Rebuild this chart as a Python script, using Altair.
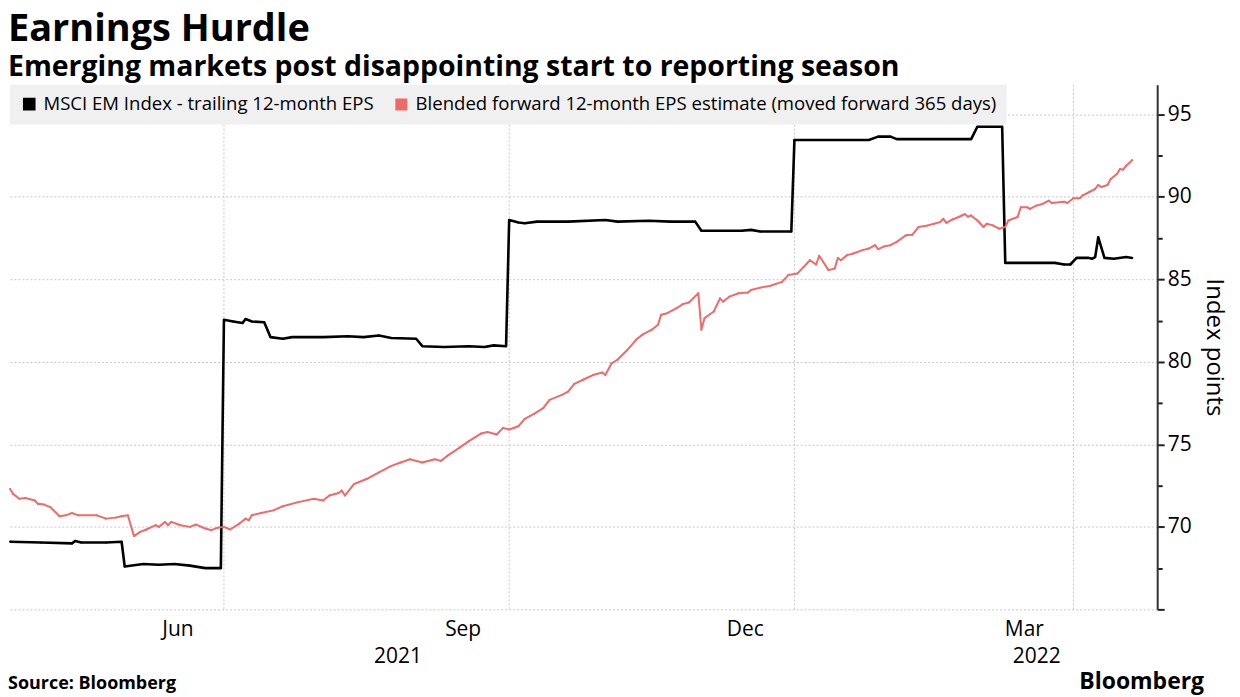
import altair as alt
import pandas as pd

series_names = [
    "MSCI EM Index - trailing 12-month EPS",
    "Blended forward 12-month EPS estimate (moved forward 365 days)",
]
series_colors = ["#000000", "#f06a6a"]
series_widths = [2.6, 2.0]

trailing_dates = [
    "2021-04-23", "2021-05-03", "2021-05-13", "2021-05-14", "2021-05-16", "2021-05-24",
    "2021-05-29", "2021-05-30", "2021-06-05", "2021-06-10", "2021-06-15", "2021-06-20",
    "2021-06-25", "2021-06-30", "2021-07-01", "2021-07-04", "2021-07-07", "2021-07-08",
    "2021-07-10", "2021-07-14", "2021-07-16", "2021-07-20", "2021-07-23", "2021-08-02",
    "2021-08-10", "2021-08-15", "2021-08-20", "2021-08-24", "2021-09-01", "2021-09-03",
    "2021-09-10", "2021-09-18", "2021-09-23", "2021-09-26", "2021-09-30", "2021-10-01",
    "2021-10-04", "2021-10-06", "2021-10-10", "2021-10-20", "2021-11-01", "2021-11-05",
    "2021-11-15", "2021-11-22", "2021-11-30", "2021-12-02", "2021-12-15", "2021-12-18",
    "2021-12-21", "2021-12-31", "2022-01-01", "2022-01-25", "2022-01-28", "2022-02-01",
    "2022-02-03", "2022-02-27", "2022-03-01", "2022-03-09", "2022-03-10", "2022-03-26",
    "2022-03-29", "2022-03-31", "2022-04-02", "2022-04-06", "2022-04-07", "2022-04-08",
    "2022-04-09", "2022-04-11", "2022-04-14", "2022-04-18", "2022-04-20",
]
trailing_values = [
    69.1, 69.05, 69.0, 69.15, 69.05, 69.05,
    69.1, 67.6, 67.75, 67.7, 67.75, 67.65,
    67.5, 67.5, 82.55, 82.45, 82.35, 82.6,
    82.45, 82.4, 81.5, 81.4, 81.5, 81.5,
    81.55, 81.5, 81.6, 81.45, 81.4, 80.95,
    80.9, 80.95, 80.9, 81.0, 80.95, 88.6,
    88.45, 88.4, 88.5, 88.5, 88.6, 88.5,
    88.55, 88.5, 88.5, 87.95, 87.95, 88.0,
    87.9, 87.9, 93.45, 93.45, 93.65, 93.65,
    93.5, 93.5, 94.25, 94.25, 86.0, 86.0,
    85.9, 85.9, 86.3, 86.3, 86.25, 86.35,
    87.55, 86.3, 86.25, 86.35, 86.3,
]

forward_dates = [
    "2021-04-23", "2021-04-24", "2021-04-26", "2021-04-28", "2021-05-01", "2021-05-02",
    "2021-05-04", "2021-05-06", "2021-05-09", "2021-05-11", "2021-05-13", "2021-05-15",
    "2021-05-21", "2021-05-24", "2021-05-27", "2021-05-29", "2021-05-31", "2021-06-02",
    "2021-06-04", "2021-06-06", "2021-06-09", "2021-06-10", "2021-06-12", "2021-06-13",
    "2021-06-14", "2021-06-17", "2021-06-20", "2021-06-22", "2021-06-25", "2021-06-27",
    "2021-06-29", "2021-07-01", "2021-07-03", "2021-07-06", "2021-07-08", "2021-07-09",
    "2021-07-10", "2021-07-13", "2021-07-17", "2021-07-20", "2021-07-25", "2021-07-30",
    "2021-08-02", "2021-08-04", "2021-08-07", "2021-08-08", "2021-08-09", "2021-08-12",
    "2021-08-16", "2021-08-20", "2021-08-24", "2021-08-27", "2021-08-30", "2021-09-03",
    "2021-09-07", "2021-09-09", "2021-09-11", "2021-09-15", "2021-09-18", "2021-09-22",
    "2021-09-24", "2021-09-27", "2021-09-29", "2021-10-01", "2021-10-04", "2021-10-06",
    "2021-10-09", "2021-10-12", "2021-10-14", "2021-10-18", "2021-10-20", "2021-10-22",
    "2021-10-25", "2021-10-28", "2021-10-31", "2021-11-01", "2021-11-03", "2021-11-05",
    "2021-11-08", "2021-11-11", "2021-11-13", "2021-11-16", "2021-11-18", "2021-11-19",
    "2021-11-21", "2021-11-24", "2021-11-26", "2021-11-28", "2021-12-01", "2021-12-02",
    "2021-12-03", "2021-12-06", "2021-12-07", "2021-12-08", "2021-12-09", "2021-12-11",
    "2021-12-14", "2021-12-17", "2021-12-18", "2021-12-21", "2021-12-24", "2021-12-28",
    "2021-12-30", "2022-01-02", "2022-01-04", "2022-01-06", "2022-01-08", "2022-01-09",
    "2022-01-12", "2022-01-14", "2022-01-15", "2022-01-16", "2022-01-18", "2022-01-20",
    "2022-01-23", "2022-01-25", "2022-01-27", "2022-01-28", "2022-01-30", "2022-02-01",
    "2022-02-03", "2022-02-06", "2022-02-08", "2022-02-10", "2022-02-13", "2022-02-15",
    "2022-02-17", "2022-02-18", "2022-02-19", "2022-02-21", "2022-02-23", "2022-02-24",
    "2022-02-25", "2022-02-26", "2022-02-27", "2022-03-01", "2022-03-03", "2022-03-04",
    "2022-03-06", "2022-03-08", "2022-03-10", "2022-03-11", "2022-03-14", "2022-03-15",
    "2022-03-17", "2022-03-18", "2022-03-20", "2022-03-22", "2022-03-23", "2022-03-24",
    "2022-03-25", "2022-03-29", "2022-03-30", "2022-04-01", "2022-04-03", "2022-04-04",
    "2022-04-06", "2022-04-08", "2022-04-09", "2022-04-10", "2022-04-12", "2022-04-13",
    "2022-04-15", "2022-04-16", "2022-04-17", "2022-04-18", "2022-04-20",
]
forward_values = [
    72.3, 72.0, 71.7, 71.75, 71.6, 71.4,
    71.35, 71.2, 70.64, 70.7, 70.84, 70.7,
    70.7, 70.5, 70.56, 70.64, 70.7, 69.44,
    69.7, 69.84, 70.1, 70.0, 70.3, 70.1,
    70.3, 70.1, 70.0, 70.14, 69.9, 69.8,
    69.95, 70.0, 69.84, 70.2, 70.5, 70.4,
    70.7, 70.84, 71.0, 71.25, 71.5, 71.7,
    71.6, 71.9, 72.05, 72.2, 71.9, 72.6,
    72.9, 73.3, 73.7, 73.9, 74.1, 73.9,
    74.1, 74.0, 74.3, 74.8, 75.2, 75.66,
    75.75, 75.6, 76.0, 75.9, 76.1, 76.55,
    76.85, 77.2, 77.7, 78.0, 78.2, 78.67,
    78.93, 79.2, 79.35, 79.2, 79.9, 80.14,
    80.7, 81.35, 81.65, 81.95, 82.25, 82.85,
    82.95, 83.25, 83.5, 83.6, 84.16, 81.95,
    82.65, 83.05, 83.45, 83.85, 83.65, 83.95,
    84.16, 84.2, 84.36, 84.5, 84.6, 84.85,
    85.26, 85.36, 85.76, 86.16, 85.9, 86.43,
    85.56, 85.66, 86.3, 86.16, 86.47, 86.57,
    86.77, 86.87, 87.07, 86.83, 87.0, 87.07,
    87.27, 87.67, 87.7, 88.17, 88.27, 88.37,
    88.47, 88.67, 88.43, 88.63, 88.78, 88.87,
    88.95, 88.8, 88.87, 88.57, 88.17, 88.37,
    88.27, 88.07, 88.17, 88.57, 88.78, 89.37,
    89.37, 89.27, 89.47, 89.57, 89.67, 89.77,
    89.63, 89.7, 89.63, 89.92, 89.92, 90.09,
    90.28, 90.48, 90.72, 90.6, 90.72, 91.08,
    91.39, 91.69, 91.65, 91.89, 92.23,
]

grid_dates = ["2021-07-01", "2021-10-01", "2022-01-01", "2022-04-01"]
month_label_dates = [(2021, 6, 16), (2021, 9, 16), (2021, 12, 16), (2022, 3, 16)]
year_label_dates = [(2021, 8, 26), (2022, 3, 20)]
x_domain = [(2021, 4, 23), (2022, 4, 28)]
y_domain = [65, 96.8]
y_ticks = [65, 67.5, 70, 72.5, 75, 77.5, 80, 82.5, 85, 87.5, 90, 92.5, 95]
source_text = "Source: Bloomberg"
brand_text = "Bloomberg"

FONT = "Open Sans"
W, H = 1150, 526


def dt(t):
    return alt.DateTime(year=t[0], month=t[1], date=t[2], utc=True)


df = pd.concat([
    pd.DataFrame({"date": trailing_dates, "value": trailing_values, "series": series_names[0]}),
    pd.DataFrame({"date": forward_dates, "value": forward_values, "series": series_names[1]}),
], ignore_index=True)
df["weight"] = df["series"]
grid_df = pd.DataFrame({"date": grid_dates})
foot_df = pd.DataFrame({"source": [source_text], "brand": [brand_text]})

xscale = alt.Scale(type="utc", domain=[dt(d) for d in x_domain], nice=False)
yscale = alt.Scale(domain=y_domain, nice=False, zero=False)
cscale = alt.Scale(domain=series_names, range=series_colors)

month_axis = alt.Axis(
    orient="bottom", values=[dt(d) for d in month_label_dates], format="%b",
    ticks=False, domain=False, grid=False, labelFont=FONT, labelFontSize=21,
    labelColor="#000000", labelPadding=9, labelAlign="center", title=None,
)
year_axis = alt.Axis(
    orient="bottom", values=[dt(d) for d in year_label_dates], format="%Y",
    ticks=False, domain=False, grid=False, labelFont=FONT, labelFontSize=21,
    labelColor="#000000", labelPadding=9, labelAlign="center", offset=27, title=None,
)
y_axis = alt.Axis(
    orient="right", values=y_ticks,
    labelExpr="(datum.value % 5 === 0 && datum.value > 65) ? datum.label : ''",
    labelFont=FONT, labelFontSize=21, labelColor="#000000", labelPadding=3,
    tickSize={"condition": {"test": "datum.value % 5 === 0", "value": 7}, "value": 5},
    tickColor="#222222", tickWidth=2,
    grid=True, gridColor="#c8c8c8", gridDash=[2, 2], gridWidth=1,
    gridOpacity={"condition": {"test": "datum.value % 5 === 0", "value": 1}, "value": 0},
    domain=True, domainColor="#333333", domainWidth=2,
    title="Index points", titleFont=FONT, titleFontSize=24, titleFontWeight="normal",
    titleColor="#000000", titleAngle=90, titlePadding=10,
)

grid = alt.Chart(grid_df).mark_rule(color="#c8c8c8", strokeDash=[2, 2], strokeWidth=1).encode(
    x=alt.X("date:T", scale=xscale, axis=year_axis)
)

# small filled squares under the lines: they carry the legend's filled square symbols
keys = alt.Chart(df).mark_point(shape="square", filled=True, size=3, opacity=1).encode(
    x=alt.X("date:T", scale=xscale, axis=None),
    y=alt.Y("value:Q", scale=yscale, axis=y_axis),
    color=alt.Color(
        "series:N", scale=cscale,
        legend=alt.Legend(
            title=None, orient="top-left", direction="horizontal", offset=0,
            fillColor="#f0f0f0", padding=10, symbolType="square", symbolSize=100,
            symbolStrokeWidth=0, labelFont=FONT, labelFontSize=18.6,
            labelColor="#000000", labelOffset=5, columnPadding=18, labelLimit=800,
        ),
    ),
)

lines = alt.Chart(df).mark_line(strokeJoin="round").encode(
    x=alt.X("date:T", scale=xscale, axis=month_axis),
    y=alt.Y("value:Q", scale=yscale, axis=y_axis),
    color=alt.Color("series:N", scale=cscale, legend=None),
    strokeWidth=alt.StrokeWidth(
        "weight:N", scale=alt.Scale(domain=series_names, range=series_widths), legend=None
    ),
)

source = alt.Chart(foot_df).mark_text(
    align="left", baseline="middle", font=FONT, fontSize=18, fontWeight="bold", color="#000000"
).encode(text="source:N", x=alt.value(-2), y=alt.value(H + 75))

brand = alt.Chart(foot_df).mark_text(
    align="right", baseline="middle", font=FONT, fontSize=23, fontWeight="bold", color="#000000"
).encode(text="brand:N", x=alt.value(1197), y=alt.value(H + 73))

chart = alt.layer(grid, keys, lines, source, brand).resolve_axis(x="independent").resolve_scale(
    x="shared"
).properties(
    width=W, height=H,
    padding={"left": 0, "top": 2, "right": 6, "bottom": 2},
    title=alt.TitleParams(
        text="Earnings Hurdle",
        subtitle="Emerging markets post disappointing start to reporting season",
        anchor="start", font=FONT, fontSize=38, fontWeight="bold", color="#000000",
        subtitleFont=FONT, subtitleFontSize=28.5, subtitleFontWeight="bold",
        subtitleColor="#000000", subtitlePadding=4, offset=3,
    ),
).configure_view(stroke=None)

chart.save("out.html", embed_options={"renderer": "svg", "actions": False})
